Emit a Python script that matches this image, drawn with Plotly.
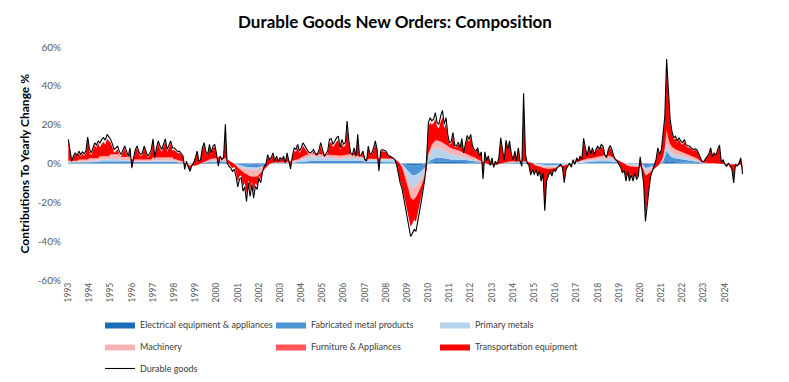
import plotly.graph_objects as go
import pandas as pd

# Durable goods new orders, yearly % change (monthly, Jan 1993 - Nov 2024)
durable = [
    12.4, 5.0, 1.2, 4.0, 5.5, 3.8, 6.4, 4.6, 6.0, 5.0, 6.5, 13.6,
    7.5, 5.5, 8.0, 10.7, 9.5, 11.6, 10.5, 12.4, 13.3, 12.0, 15.0, 13.8,
    12.4, 10.0, 7.2, 8.0, 9.0, 6.0, 4.6, 7.0, 9.0, 6.5, 3.8, 8.0,
    -2.2, 3.0, 7.2, 9.0, 6.0, 4.6, 5.5, 9.0, 6.5, 3.8, 5.0, 7.0,
    12.7, 3.0, 8.0, 11.6, 9.0, 7.2, 10.0, 12.7, 7.2, 9.0, 11.6, 8.0,
    8.0, 7.2, 6.0, 6.4, 5.0, 4.0, -3.0, 1.2, -2.0, -4.0, -1.0, 0.3,
    3.0, 6.4, 1.2, 2.0, 8.0, 10.7, 6.0, 4.6, 9.8, 5.5, 9.0, 9.8,
    5.0, -1.4, 3.8, 2.0, 3.0, 20.2, 0.3, -1.4, -2.2, -4.0, -3.0, -6.5,
    -12.0, -8.0, -7.4, -14.3, -12.0, -19.5, -10.0, -17.0, -10.9, -17.8, -11.7, -13.4,
    -7.4, -10.0, -4.8, -1.4, -0.5, 4.6, 2.0, 3.0, 5.5, 1.2, 3.8, 1.2,
    3.0, 2.0, 3.8, 0.3, 5.5, 0.3, -2.8, 4.0, 8.0, 7.2, 9.8, 6.4,
    8.0, 10.7, 9.0, 7.2, 6.0, 5.5, 6.0, 7.2, 5.0, 4.6, 7.0, 10.7,
    7.0, 3.8, 5.0, 6.4, 12.4, 12.8, 9.8, 12.0, 13.3, 14.1, 8.1, 12.4,
    9.8, 11.0, 21.9, 11.6, 5.5, 4.6, 8.1, 3.8, 15.0, 3.8, 4.6, 6.4,
    2.0, 1.2, 9.0, 4.6, 5.5, 8.0, 11.6, 7.2, -4.0, 6.4, 7.2, 6.8,
    6.4, 4.6, 3.8, 3.5, 2.9, 2.0, -0.5, -5.7, -10.0, -12.6, -17.8, -23.0,
    -28.0, -34.0, -37.6, -35.9, -34.0, -35.0, -29.0, -24.7, -19.5, -14.3, -8.0, 2.0,
    21.0, 23.6, 22.0, 22.8, 26.2, 21.0, 20.2, 24.5, 27.4, 20.2, 23.6, 15.0,
    10.5, 11.6, 15.9, 9.5, 9.0, 11.0, 8.1, 12.8, 5.5, 10.0, 14.5, 12.4,
    15.0, 9.0, 7.2, 6.4, 8.1, 3.8, 6.0, -8.0, 6.0, 1.5, 4.0, -1.0,
    2.9, -2.0, 1.2, -0.5, 2.9, 13.3, 8.0, 1.5, 12.0, 7.0, 11.6, 5.0,
    2.0, 6.4, 1.2, 8.1, 1.2, -1.4, 36.2, 5.0, 0.3, -1.0, -6.0, -3.1,
    -5.7, -3.0, -6.5, -4.0, -9.1, -5.0, -24.3, -9.1, -6.5, -4.0, -6.5, -3.1,
    -4.0, -2.2, -1.4, -0.5, -2.0, -9.9, -3.1, -1.4, 0.3, -1.9, 2.0, -0.5,
    2.9, 1.2, 3.8, 2.0, 13.0, 8.1, 3.8, 9.0, 5.0, 8.1, 4.5, 7.2,
    9.0, 7.2, 9.8, 9.0, 4.6, 3.0, 7.2, 9.3, 7.2, 3.8, 2.0, 1.2,
    -0.5, -2.2, -4.8, -3.5, -9.1, -4.0, -9.1, -5.7, -9.1, -4.8, -8.3, -6.5,
    3.4, -3.1, -10.0, -29.8, -20.3, -13.4, -6.5, -4.0, -1.4, 2.0, 8.1, 4.6,
    7.2, 15.0, 24.0, 53.8, 36.6, 22.8, 16.7, 13.3, 14.1, 11.6, 13.3, 11.6,
    10.7, 12.4, 9.8, 9.0, 9.0, 8.1, 7.2, 7.5, 7.2, 5.5, 2.9, 1.2,
    1.0, 2.5, 3.8, 5.0, 8.1, 3.5, 5.5, 4.2, 7.2, 9.5, 0.3, 2.0,
    -0.5, -1.4, 0.3, -1.4, -3.0, -10.0, -0.5, -1.4, 0.3, 2.9, -5.5,
]

electrical = [
    0.2, 0.2, 0.2, 0.2, 0.2, 0.2, 0.2, 0.2, 0.2, 0.2, 0.2, 0.2,
    0.3, 0.3, 0.3, 0.3, 0.3, 0.3, 0.4, 0.4, 0.4, 0.4, 0.4, 0.4,
    0.5, 0.5, 0.5, 0.5, 0.5, 0.5, 0.4, 0.4, 0.4, 0.4, 0.4, 0.4,
    0.3, 0.3, 0.3, 0.3, 0.3, 0.3, 0.3, 0.3, 0.3, 0.3, 0.3, 0.3,
    0.4, 0.4, 0.4, 0.4, 0.4, 0.4, 0.4, 0.4, 0.4, 0.4, 0.4, 0.4,
    0.3, 0.3, 0.3, 0.3, 0.2, 0.2, 0.1, 0.1, 0.1, 0.0, 0.0, 0.0,
    0.0, 0.0, 0.1, 0.1, 0.2, 0.2, 0.3, 0.3, 0.3, 0.4, 0.4, 0.4,
    0.5, 0.5, 0.5, 0.5, 0.5, 0.5, 0.4, 0.3, 0.2, 0.1, 0.0, -0.1,
    -0.2, -0.3, -0.4, -0.5, -0.5, -0.6, -0.6, -0.7, -0.7, -0.7, -0.7, -0.7,
    -0.6, -0.5, -0.4, -0.3, -0.2, -0.1, 0.0, 0.0, 0.1, 0.1, 0.1, 0.1,
    0.1, 0.1, 0.1, 0.1, 0.1, 0.1, 0.1, 0.2, 0.2, 0.2, 0.3, 0.3,
    0.3, 0.3, 0.4, 0.4, 0.4, 0.4, 0.4, 0.4, 0.4, 0.4, 0.4, 0.4,
    0.4, 0.4, 0.4, 0.4, 0.4, 0.4, 0.4, 0.4, 0.4, 0.4, 0.4, 0.4,
    0.4, 0.4, 0.4, 0.4, 0.4, 0.4, 0.4, 0.4, 0.4, 0.4, 0.4, 0.4,
    0.3, 0.3, 0.3, 0.3, 0.3, 0.3, 0.3, 0.3, 0.3, 0.3, 0.3, 0.3,
    0.3, 0.3, 0.3, 0.2, 0.2, 0.2, 0.1, 0.0, -0.1, -0.2, -0.4, -0.6,
    -0.8, -1.0, -1.1, -1.2, -1.2, -1.1, -1.0, -0.9, -0.8, -0.6, -0.4, -0.2,
    0.3, 0.5, 0.7, 0.8, 0.9, 0.9, 0.9, 0.9, 0.9, 0.8, 0.8, 0.7,
    0.6, 0.6, 0.6, 0.6, 0.6, 0.6, 0.6, 0.6, 0.6, 0.6, 0.6, 0.6,
    0.5, 0.5, 0.4, 0.4, 0.3, 0.3, 0.2, 0.2, 0.1, 0.1, 0.0, 0.0,
    0.0, 0.0, 0.0, 0.0, 0.1, 0.1, 0.1, 0.1, 0.1, 0.2, 0.2, 0.2,
    0.2, 0.2, 0.2, 0.2, 0.2, 0.2, 0.2, 0.2, 0.2, 0.1, 0.1, 0.1,
    -0.1, -0.1, -0.2, -0.2, -0.2, -0.2, -0.3, -0.3, -0.3, -0.3, -0.3, -0.3,
    -0.2, -0.2, -0.2, -0.2, -0.2, -0.1, -0.1, -0.1, -0.1, 0.0, 0.0, 0.0,
    0.1, 0.1, 0.1, 0.1, 0.2, 0.2, 0.2, 0.2, 0.2, 0.2, 0.3, 0.3,
    0.3, 0.3, 0.3, 0.3, 0.3, 0.3, 0.3, 0.2, 0.2, 0.2, 0.2, 0.1,
    0.1, 0.0, 0.0, 0.0, 0.0, -0.1, -0.1, -0.1, -0.1, -0.1, -0.1, -0.1,
    -0.1, -0.1, -0.3, -0.8, -0.7, -0.5, -0.4, -0.3, -0.2, -0.1, 0.0, 0.0,
    0.2, 0.4, 0.8, 1.3, 1.0, 0.8, 0.7, 0.6, 0.6, 0.6, 0.6, 0.5,
    0.5, 0.5, 0.4, 0.4, 0.4, 0.3, 0.3, 0.3, 0.3, 0.2, 0.2, 0.1,
    0.1, 0.1, 0.1, 0.1, 0.1, 0.1, 0.1, 0.1, 0.1, 0.1, 0.0, 0.0,
    0.0, 0.0, 0.0, 0.0, 0.0, 0.0, 0.0, 0.0, 0.0, 0.0, 0.0,
]

fabricated = [
    0.3, 0.3, 0.3, 0.3, 0.3, 0.3, 0.3, 0.3, 0.3, 0.3, 0.3, 0.3,
    0.5, 0.5, 0.5, 0.5, 0.5, 0.5, 0.7, 0.7, 0.7, 0.7, 0.7, 0.7,
    0.9, 0.9, 0.9, 0.9, 0.9, 0.9, 0.7, 0.7, 0.7, 0.7, 0.7, 0.7,
    0.5, 0.5, 0.5, 0.5, 0.5, 0.5, 0.5, 0.5, 0.5, 0.5, 0.5, 0.5,
    0.7, 0.7, 0.7, 0.7, 0.7, 0.7, 0.7, 0.7, 0.7, 0.7, 0.7, 0.7,
    0.5, 0.5, 0.4, 0.4, 0.3, 0.3, 0.2, 0.1, 0.1, 0.0, 0.0, 0.0,
    0.0, 0.0, 0.1, 0.1, 0.2, 0.3, 0.3, 0.4, 0.4, 0.5, 0.5, 0.5,
    0.6, 0.6, 0.6, 0.6, 0.6, 0.5, 0.4, 0.3, 0.2, 0.1, 0.0, -0.1,
    -0.3, -0.4, -0.6, -0.8, -1.0, -1.2, -1.3, -1.4, -1.5, -1.5, -1.5, -1.5,
    -1.3, -1.1, -0.9, -0.7, -0.5, -0.3, -0.1, 0.0, 0.1, 0.1, 0.1, 0.1,
    0.1, 0.1, 0.1, 0.1, 0.2, 0.2, 0.2, 0.3, 0.3, 0.4, 0.4, 0.5,
    0.6, 0.7, 0.8, 0.9, 1.0, 1.0, 1.0, 1.0, 1.0, 1.0, 0.9, 0.9,
    0.9, 0.9, 0.9, 0.9, 0.9, 0.9, 0.9, 0.9, 0.9, 0.9, 0.9, 0.9,
    1.0, 1.0, 1.0, 1.0, 1.0, 1.0, 1.0, 1.0, 1.0, 1.0, 1.0, 1.0,
    0.6, 0.6, 0.6, 0.6, 0.6, 0.6, 0.6, 0.6, 0.6, 0.6, 0.6, 0.6,
    0.6, 0.6, 0.6, 0.5, 0.5, 0.4, 0.3, 0.2, 0.0, -0.3, -0.9, -1.5,
    -2.5, -3.5, -4.5, -5.0, -5.0, -4.8, -4.4, -3.8, -3.2, -2.5, -1.8, -1.0,
    0.6, 1.0, 1.4, 1.7, 1.9, 2.0, 2.0, 2.0, 1.9, 1.8, 1.7, 1.6,
    1.5, 1.5, 1.5, 1.4, 1.4, 1.4, 1.3, 1.3, 1.3, 1.2, 1.2, 1.2,
    1.1, 1.0, 0.9, 0.8, 0.7, 0.6, 0.5, 0.4, 0.3, 0.2, 0.1, 0.0,
    0.0, 0.0, 0.0, 0.1, 0.1, 0.2, 0.2, 0.2, 0.3, 0.3, 0.3, 0.3,
    0.4, 0.4, 0.4, 0.4, 0.4, 0.4, 0.4, 0.4, 0.3, 0.3, 0.2, 0.2,
    -0.1, -0.2, -0.3, -0.4, -0.5, -0.5, -0.6, -0.6, -0.6, -0.6, -0.6, -0.6,
    -0.5, -0.5, -0.4, -0.4, -0.3, -0.3, -0.2, -0.2, -0.1, -0.1, 0.0, 0.0,
    0.1, 0.2, 0.3, 0.4, 0.5, 0.5, 0.6, 0.6, 0.6, 0.7, 0.7, 0.7,
    0.8, 0.8, 0.9, 0.9, 0.9, 0.9, 0.9, 0.9, 0.8, 0.7, 0.6, 0.5,
    0.4, 0.3, 0.2, 0.1, 0.0, -0.1, -0.2, -0.2, -0.3, -0.3, -0.3, -0.3,
    -0.3, -0.4, -0.8, -1.5, -1.5, -1.3, -1.1, -0.9, -0.7, -0.5, -0.3, -0.2,
    0.3, 1.0, 2.5, 5.5, 4.0, 3.0, 2.5, 2.2, 2.0, 1.9, 1.8, 1.7,
    1.6, 1.5, 1.4, 1.3, 1.2, 1.1, 1.0, 0.9, 0.8, 0.7, 0.5, 0.3,
    0.2, 0.2, 0.1, 0.1, 0.1, 0.1, 0.1, 0.0, 0.0, 0.0, 0.0, 0.0,
    -0.1, -0.1, -0.1, -0.1, -0.1, -0.1, -0.1, -0.1, -0.1, -0.1, -0.1,
]

primary = [
    0.2, 0.2, 0.2, 0.2, 0.2, 0.2, 0.4, 0.4, 0.4, 0.4, 0.4, 0.4,
    0.6, 0.6, 0.6, 0.6, 0.6, 0.6, 0.9, 0.9, 0.9, 0.9, 0.9, 0.9,
    1.0, 1.0, 1.0, 1.0, 1.0, 1.0, 0.6, 0.6, 0.6, 0.6, 0.6, 0.6,
    0.2, 0.2, 0.2, 0.2, 0.2, 0.2, 0.2, 0.2, 0.2, 0.2, 0.2, 0.2,
    0.5, 0.5, 0.5, 0.5, 0.5, 0.5, 0.5, 0.5, 0.5, 0.5, 0.5, 0.5,
    0.3, 0.3, 0.2, 0.1, 0.0, 0.0, -0.3, -0.5, -0.7, -0.8, -0.8, -0.8,
    -0.7, -0.6, -0.5, -0.3, -0.2, 0.0, 0.1, 0.2, 0.3, 0.4, 0.5, 0.5,
    0.5, 0.5, 0.4, 0.4, 0.3, 0.2, 0.0, -0.2, -0.3, -0.4, -0.5, -0.6,
    -0.8, -0.8, -0.9, -1.0, -1.0, -1.1, -1.1, -1.1, -1.1, -1.0, -1.0, -0.9,
    -0.7, -0.5, -0.3, -0.1, 0.0, 0.1, 0.2, 0.2, 0.2, 0.2, 0.2, 0.2,
    0.1, 0.1, 0.1, 0.1, 0.1, 0.1, 0.2, 0.3, 0.4, 0.5, 0.6, 0.8,
    1.0, 1.3, 1.6, 1.8, 2.0, 2.1, 2.2, 2.2, 2.2, 2.1, 2.0, 1.9,
    1.8, 1.7, 1.6, 1.5, 1.4, 1.3, 1.2, 1.2, 1.2, 1.2, 1.2, 1.2,
    1.3, 1.4, 1.5, 1.6, 1.6, 1.6, 1.5, 1.4, 1.3, 1.2, 1.1, 1.0,
    0.8, 0.7, 0.7, 0.8, 0.9, 1.0, 1.0, 1.0, 1.0, 1.0, 1.0, 1.1,
    1.2, 1.3, 1.4, 1.5, 1.5, 1.5, 1.3, 1.0, 0.5, -0.2, -1.3, -2.5,
    -4.0, -5.0, -6.0, -6.2, -6.0, -5.6, -5.0, -4.2, -3.5, -2.8, -2.0, -1.0,
    2.5, 3.5, 4.5, 5.0, 5.3, 5.3, 5.0, 4.7, 4.4, 4.0, 3.8, 3.5,
    3.0, 2.8, 2.6, 2.4, 2.2, 2.0, 1.8, 1.6, 1.4, 1.2, 1.0, 0.8,
    0.6, 0.4, 0.2, 0.0, -0.2, -0.3, -0.4, -0.5, -0.5, -0.5, -0.5, -0.5,
    -0.5, -0.5, -0.5, -0.4, -0.4, -0.3, -0.3, -0.2, -0.2, -0.1, -0.1, 0.0,
    0.1, 0.2, 0.2, 0.3, 0.3, 0.3, 0.3, 0.3, 0.2, 0.1, 0.0, -0.1,
    -0.3, -0.4, -0.5, -0.6, -0.7, -0.8, -0.8, -0.9, -0.9, -0.9, -0.9, -0.9,
    -0.8, -0.7, -0.6, -0.5, -0.4, -0.3, -0.2, -0.1, 0.0, 0.0, 0.1, 0.1,
    0.3, 0.4, 0.5, 0.6, 0.7, 0.7, 0.8, 0.8, 0.8, 0.8, 0.9, 0.9,
    1.0, 1.1, 1.2, 1.3, 1.4, 1.4, 1.4, 1.3, 1.2, 1.0, 0.8, 0.6,
    0.4, 0.2, 0.0, -0.2, -0.4, -0.5, -0.6, -0.7, -0.7, -0.7, -0.7, -0.7,
    -0.6, -0.7, -0.9, -1.3, -1.4, -1.3, -1.2, -1.0, -0.8, -0.6, -0.4, -0.2,
    0.3, 0.8, 1.8, 3.5, 2.8, 2.4, 2.2, 2.0, 1.9, 1.8, 1.7, 1.6,
    1.5, 1.4, 1.3, 1.2, 1.0, 0.8, 0.6, 0.4, 0.2, 0.0, -0.2, -0.3,
    -0.3, -0.4, -0.4, -0.4, -0.4, -0.3, -0.3, -0.3, -0.2, -0.2, -0.2, -0.2,
    -0.2, -0.2, -0.2, -0.2, -0.2, -0.2, -0.2, -0.2, -0.2, -0.2, -0.2,
]

machinery = [
    0.6, 0.6, 0.6, 0.6, 0.6, 0.6, 1.0, 1.0, 1.0, 1.0, 1.0, 1.0,
    1.2, 1.2, 1.2, 1.2, 1.2, 1.2, 1.6, 1.6, 1.6, 1.6, 1.6, 1.6,
    2.2, 2.2, 2.2, 2.2, 2.2, 2.2, 1.6, 1.6, 1.6, 1.6, 1.6, 1.6,
    1.0, 1.0, 1.0, 1.0, 1.0, 1.0, 1.0, 1.0, 1.0, 1.0, 1.0, 1.0,
    1.4, 1.4, 1.4, 1.4, 1.4, 1.4, 1.4, 1.4, 1.4, 1.4, 1.4, 1.4,
    1.0, 1.0, 0.8, 0.8, 0.6, 0.5, 0.2, 0.0, -0.2, -0.4, -0.5, -0.5,
    -0.4, -0.3, -0.2, 0.0, 0.2, 0.4, 0.5, 0.6, 0.8, 1.0, 1.0, 1.2,
    1.4, 1.4, 1.5, 1.5, 1.5, 1.4, 1.2, 1.0, 0.8, 0.5, 0.3, 0.0,
    -0.8, -1.2, -1.6, -2.0, -2.4, -2.8, -3.0, -3.2, -3.4, -3.5, -3.5, -3.4,
    -3.0, -2.6, -2.0, -1.5, -1.0, -0.6, -0.3, -0.1, 0.0, 0.1, 0.1, 0.2,
    0.2, 0.2, 0.2, 0.2, 0.3, 0.3, 0.4, 0.5, 0.6, 0.7, 0.8, 0.9,
    1.0, 1.1, 1.2, 1.3, 1.3, 1.4, 1.4, 1.4, 1.4, 1.4, 1.4, 1.4,
    1.4, 1.4, 1.4, 1.4, 1.4, 1.4, 1.4, 1.4, 1.4, 1.4, 1.4, 1.4,
    1.5, 1.5, 1.5, 1.5, 1.4, 1.4, 1.3, 1.2, 1.1, 1.0, 0.9, 0.8,
    0.7, 0.6, 0.6, 0.6, 0.6, 0.6, 0.6, 0.6, 0.6, 0.6, 0.6, 0.6,
    0.5, 0.5, 0.4, 0.3, 0.2, 0.1, 0.0, -0.3, -0.6, -1.0, -1.7, -2.5,
    -3.5, -4.5, -5.5, -5.8, -5.8, -5.5, -5.0, -4.5, -3.8, -3.2, -2.5, -1.5,
    1.5, 2.2, 2.8, 3.2, 3.5, 3.6, 3.6, 3.6, 3.5, 3.4, 3.3, 3.2,
    3.0, 3.0, 3.0, 2.9, 2.8, 2.7, 2.6, 2.5, 2.4, 2.3, 2.2, 2.1,
    2.0, 1.8, 1.6, 1.4, 1.2, 1.0, 0.8, 0.6, 0.4, 0.2, 0.0, -0.2,
    -0.3, -0.3, -0.2, -0.2, -0.1, 0.0, 0.1, 0.2, 0.3, 0.4, 0.5, 0.5,
    0.5, 0.5, 0.5, 0.4, 0.4, 0.4, 0.3, 0.3, 0.2, 0.1, 0.0, -0.1,
    -0.3, -0.4, -0.5, -0.6, -0.7, -0.8, -0.8, -0.9, -0.9, -0.9, -0.9, -0.8,
    -0.7, -0.6, -0.5, -0.4, -0.3, -0.3, -0.2, -0.1, 0.0, 0.0, 0.1, 0.1,
    0.3, 0.4, 0.5, 0.6, 0.7, 0.8, 0.9, 1.0, 1.0, 1.1, 1.2, 1.3,
    1.3, 1.4, 1.5, 1.5, 1.5, 1.5, 1.4, 1.3, 1.2, 1.0, 0.8, 0.6,
    0.4, 0.2, 0.0, -0.2, -0.3, -0.4, -0.5, -0.6, -0.6, -0.7, -0.7, -0.7,
    -0.6, -0.7, -1.2, -2.2, -2.0, -1.8, -1.5, -1.2, -0.9, -0.6, -0.3, 0.0,
    0.5, 1.2, 2.5, 6.0, 4.5, 3.5, 3.0, 2.7, 2.5, 2.4, 2.3, 2.2,
    2.1, 2.0, 1.9, 1.8, 1.7, 1.6, 1.5, 1.4, 1.3, 1.1, 0.8, 0.6,
    0.5, 0.4, 0.4, 0.3, 0.3, 0.3, 0.2, 0.2, 0.2, 0.1, 0.1, 0.0,
    -0.1, -0.1, -0.2, -0.2, -0.2, -0.3, -0.3, -0.3, -0.3, -0.3, -0.3,
]

furniture = [
    0.1, 0.1, 0.1, 0.1, 0.1, 0.1, 0.1, 0.1, 0.1, 0.1, 0.1, 0.1,
    0.2, 0.2, 0.2, 0.2, 0.2, 0.2, 0.2, 0.2, 0.2, 0.2, 0.2, 0.2,
    0.2, 0.2, 0.2, 0.2, 0.2, 0.2, 0.1, 0.1, 0.1, 0.1, 0.1, 0.1,
    0.1, 0.1, 0.1, 0.1, 0.1, 0.1, 0.1, 0.1, 0.1, 0.1, 0.1, 0.1,
    0.2, 0.2, 0.2, 0.2, 0.2, 0.2, 0.2, 0.2, 0.2, 0.2, 0.2, 0.2,
    0.1, 0.1, 0.1, 0.1, 0.1, 0.1, 0.1, 0.1, 0.1, 0.1, 0.1, 0.1,
    0.1, 0.1, 0.1, 0.1, 0.1, 0.1, 0.1, 0.1, 0.1, 0.1, 0.1, 0.1,
    0.1, 0.1, 0.1, 0.1, 0.1, 0.1, 0.1, 0.0, 0.0, 0.0, 0.0, 0.0,
    0.0, 0.0, -0.1, -0.1, -0.1, -0.1, -0.2, -0.2, -0.2, -0.2, -0.2, -0.2,
    -0.2, -0.1, -0.1, 0.0, 0.0, 0.0, 0.0, 0.0, 0.0, 0.0, 0.0, 0.0,
    0.1, 0.1, 0.1, 0.1, 0.1, 0.1, 0.1, 0.1, 0.1, 0.1, 0.1, 0.1,
    0.1, 0.1, 0.1, 0.2, 0.2, 0.2, 0.2, 0.2, 0.2, 0.2, 0.2, 0.2,
    0.2, 0.2, 0.2, 0.2, 0.2, 0.2, 0.2, 0.2, 0.2, 0.2, 0.2, 0.2,
    0.2, 0.2, 0.2, 0.2, 0.2, 0.2, 0.2, 0.2, 0.2, 0.2, 0.2, 0.2,
    0.1, 0.1, 0.1, 0.1, 0.1, 0.1, 0.1, 0.1, 0.1, 0.1, 0.1, 0.1,
    0.0, 0.0, 0.0, 0.0, 0.0, 0.0, 0.0, 0.0, -0.1, -0.1, -0.2, -0.2,
    -0.3, -0.4, -0.5, -0.5, -0.5, -0.4, -0.4, -0.3, -0.3, -0.2, -0.1, 0.0,
    0.1, 0.2, 0.2, 0.2, 0.2, 0.2, 0.2, 0.2, 0.2, 0.2, 0.2, 0.2,
    0.1, 0.1, 0.1, 0.1, 0.1, 0.1, 0.1, 0.1, 0.1, 0.1, 0.1, 0.1,
    0.1, 0.1, 0.1, 0.1, 0.1, 0.1, 0.1, 0.1, 0.1, 0.1, 0.1, 0.1,
    0.1, 0.1, 0.1, 0.1, 0.1, 0.1, 0.1, 0.1, 0.1, 0.1, 0.1, 0.1,
    0.1, 0.1, 0.1, 0.1, 0.1, 0.1, 0.1, 0.1, 0.1, 0.1, 0.1, 0.1,
    0.0, 0.0, 0.0, 0.0, 0.0, 0.0, 0.0, 0.0, 0.0, 0.0, 0.0, 0.0,
    0.0, 0.0, 0.0, 0.0, 0.0, 0.0, 0.0, 0.0, 0.0, 0.0, 0.0, 0.0,
    0.0, 0.0, 0.0, 0.0, 0.1, 0.1, 0.1, 0.1, 0.1, 0.1, 0.1, 0.1,
    0.1, 0.1, 0.1, 0.1, 0.1, 0.1, 0.1, 0.1, 0.1, 0.1, 0.1, 0.1,
    0.0, 0.0, 0.0, 0.0, 0.0, 0.0, 0.0, 0.0, 0.0, 0.0, 0.0, 0.0,
    0.0, 0.0, -0.1, -0.3, -0.2, -0.1, 0.0, 0.0, 0.0, 0.0, 0.0, 0.0,
    0.1, 0.2, 0.4, 1.0, 0.6, 0.4, 0.3, 0.3, 0.3, 0.3, 0.2, 0.2,
    0.2, 0.2, 0.2, 0.2, 0.1, 0.1, 0.1, 0.1, 0.1, 0.0, 0.0, 0.0,
    0.0, 0.0, 0.0, 0.0, 0.0, 0.0, 0.0, 0.0, 0.0, 0.0, 0.0, 0.0,
    0.0, 0.0, 0.0, 0.0, 0.0, 0.0, 0.0, 0.0, 0.0, 0.0, 0.0,
]

transportation = [
    10.4, 3.0, -0.8, 2.0, 3.5, 1.8, 3.4, 1.6, 3.0, 2.0, 3.5, 10.6,
    3.5, 1.5, 4.0, 6.7, 5.5, 7.6, 4.5, 6.4, 7.3, 6.0, 9.0, 7.8,
    5.9, 3.5, 0.7, 1.5, 2.5, -0.5, 0.1, 2.5, 4.5, 2.0, -0.7, 3.5,
    -5.2, 0.0, 4.2, 6.0, 3.0, 1.6, 2.5, 6.0, 3.5, 0.8, 2.0, 4.0,
    8.2, -1.5, 3.5, 7.1, 4.5, 2.7, 5.5, 8.2, 2.7, 4.5, 7.1, 3.5,
    4.8, 4.0, 3.4, 3.9, 3.2, 2.4, -3.3, 1.4, -1.4, -2.6, 0.5, 1.5,
    4.0, 6.7, 1.6, 2.0, 6.7, 8.7, 3.9, 2.5, 6.7, 2.5, 5.3, 5.9,
    1.4, -4.0, 0.2, -1.1, 0.0, 15.5, -1.3, -1.8, -2.1, -2.8, -1.3, -3.7,
    -7.4, -3.8, -2.6, -7.4, -5.0, -10.2, -2.3, -7.4, -2.5, -7.9, -3.3, -4.7,
    -0.6, -3.2, -0.6, 1.2, 1.2, 4.5, 1.7, 2.4, 4.1, 0.7, 2.5, 0.6,
    1.9, 1.1, 2.6, -0.3, 3.7, -0.5, -3.3, 2.0, 5.0, 4.1, 6.0, 2.8,
    3.8, 5.6, 3.6, 1.6, 0.3, -0.4, 0.0, 1.0, -0.9, -1.1, 1.1, 4.3,
    1.3, -1.3, -0.2, 1.0, 6.3, 6.8, 4.3, 6.1, 7.2, 8.0, 2.8, 6.5,
    4.0, 5.0, 14.8, 5.4, 0.2, -0.6, 2.7, -0.8, 9.5, -0.3, 0.5, 2.2,
    -0.5, -1.1, 5.7, 1.7, 2.4, 4.4, 7.5, 3.8, -6.1, 3.2, 3.8, 3.5,
    3.3, 1.6, 0.9, 0.8, 0.3, -0.3, -1.9, -6.0, -8.7, -9.6, -11.5, -13.2,
    -13.4, -15.1, -15.0, -12.2, -10.5, -12.6, -9.2, -7.5, -5.4, -3.5, -0.7, 5.2,
    14.0, 13.7, 10.4, 9.9, 11.4, 7.0, 6.5, 10.1, 13.0, 8.0, 10.8, 4.3,
    1.3, 2.6, 6.6, 1.3, 1.1, 3.2, 1.1, 5.5, -0.6, 3.8, 7.9, 6.4,
    9.2, 4.4, 3.5, 3.2, 5.2, 2.1, 4.3, -7.8, 5.1, 1.4, 4.0, 0.0,
    3.6, -1.0, 1.8, -0.1, 2.8, 12.0, 7.2, 1.1, 10.4, 5.5, 9.6, 3.5,
    0.7, 4.5, -0.2, 6.1, -0.2, -2.6, 32.9, 3.4, -0.7, -1.5, -5.8, -3.0,
    -4.4, -1.7, -4.5, -2.0, -6.2, -2.4, -20.3, -5.9, -3.5, -1.3, -3.5, -0.5,
    -1.8, -0.2, 0.3, 1.0, -0.8, -8.4, -2.4, -0.9, 0.5, -1.8, 1.8, -0.7,
    1.8, 0.1, 2.1, 0.3, 9.3, 5.0, 1.2, 5.5, 2.0, 4.6, 1.3, 3.4,
    4.5, 3.0, 4.8, 3.9, 0.4, -0.9, 2.6, 4.5, 2.9, 0.6, -0.5, -0.7,
    -1.8, -2.6, -4.5, -2.9, -7.4, -2.6, -6.7, -3.6, -6.4, -2.7, -5.7, -4.2,
    4.5, -0.9, -5.5, -20.7, -13.0, -7.6, -2.3, -0.6, 1.2, 3.5, 8.1, 4.5,
    5.3, 10.4, 14.0, 33.5, 21.2, 11.2, 7.0, 4.5, 5.6, 3.8, 5.7, 4.4,
    3.8, 5.6, 3.8, 3.3, 3.8, 3.5, 3.1, 3.8, 3.9, 3.1, 1.4, 0.5,
    0.5, 2.0, 3.3, 4.4, 7.2, 3.0, 4.9, 3.8, 6.4, 8.5, 0.4, 2.0,
    -0.1, -1.0, 0.8, -0.9, -2.2, -8.4, 0.1, -0.8, 0.9, 3.2, -4.4,
]

year_labels = [str(y) for y in range(1993, 2025)]
y_ticks = [60, 40, 20, 0, -20, -40, -60]

n = len(durable)
for arr in (electrical, fabricated, primary, machinery, furniture, transportation):
    assert len(arr) == n, len(arr)

months = pd.date_range("1993-01-01", periods=n, freq="MS")

FONT = "Lato"
TXT = "#595959"

components = [
    ("Electrical equipment & appliances", electrical, "#1C6CBA", "legend"),
    ("Fabricated metal products", fabricated, "#4D93D6", "legend2"),
    ("Primary metals", primary, "#B6D4EE", "legend3"),
    ("Machinery", machinery, "#F8B4B4", "legend"),
    ("Furniture & Appliances", furniture, "#FF5757", "legend2"),
    ("Transportation equipment", transportation, "#FF0000", "legend3"),
]

fig = go.Figure()
for name, vals, col, lg in components:
    fig.add_trace(go.Scatter(
        x=months, y=vals, name=name, mode="lines",
        line=dict(width=0, color=col), fillcolor=col,
        stackgroup="one", legend=lg, legendgroup=name, hoverinfo="skip",
    ))
fig.add_trace(go.Scatter(
    x=months, y=durable, name="Durable goods", mode="lines",
    line=dict(color="#000000", width=1.1), legend="legend",
    legendgroup="Durable goods", hoverinfo="skip",
))

# figure is drawn inside the page's 8px body margin
W, H = 781, 374
L, R, T, B = 54, 44, 39, 102
pw, ph = W - L - R, H - T - B


def px_x(px):
    return (px - L) / pw


def px_y(py):
    return (H - B - py) / ph


legend_common = dict(
    orientation="v", xanchor="left", yanchor="top",
    font=dict(family=FONT, size=9, color="#404040"),
    bgcolor="rgba(0,0,0,0)", tracegroupgap=3, itemwidth=30,
)

x_range = ["1992-09-14", "2024-12-13"]

fig.update_layout(
    width=W, height=H,
    margin=dict(l=L, r=R, t=T, b=B, autoexpand=False),
    paper_bgcolor="white", plot_bgcolor="white",
    font=dict(family=FONT, color=TXT),
    title=dict(
        text="<b>Durable Goods New Orders: Composition</b>",
        x=387 / W, xref="container", xanchor="center",
        y=1 - 14 / H, yref="container", yanchor="middle",
        font=dict(family=FONT, size=17, color="#000000"),
    ),
    xaxis=dict(
        type="date", range=x_range,
        tickvals=[f"{y}-01-01" for y in range(1993, 2025)],
        ticktext=year_labels, tickangle=-90,
        tickfont=dict(family=FONT, size=8.5, color=TXT),
        showgrid=False, zeroline=False, showline=False, ticks="",
    ),
    xaxis2=dict(
        type="date", range=x_range, overlaying="x", anchor="free",
        position=0.5, side="bottom",
        tickvals=[f"{y}-01-01" for y in range(1993, 2025)],
        showticklabels=False, ticks="outside", ticklen=3,
        tickcolor="#BFBFBF", showline=True, linecolor="#BFBFBF",
        linewidth=1, showgrid=False, zeroline=False,
    ),
    yaxis=dict(
        range=[-60, 60], tickvals=y_ticks,
        ticktext=[f"{v}%" for v in y_ticks],
        tickfont=dict(family=FONT, size=10, color=TXT),
        showgrid=False, zeroline=False, showline=False, ticks="",
    ),
    legend=dict(x=px_x(92), y=px_y(302), **legend_common),
    legend2=dict(x=px_x(263), y=px_y(302), **legend_common),
    legend3=dict(x=px_x(427), y=px_y(302), **legend_common),
    annotations=[dict(
        text="<b>Contributions To Yearly Change %</b>",
        x=px_x(16), y=0.5, xref="paper", yref="paper",
        xanchor="center", yanchor="middle", textangle=-90,
        showarrow=False, font=dict(family=FONT, size=12, color="#000000"),
    )],
)

fig.write_html("out.html")
